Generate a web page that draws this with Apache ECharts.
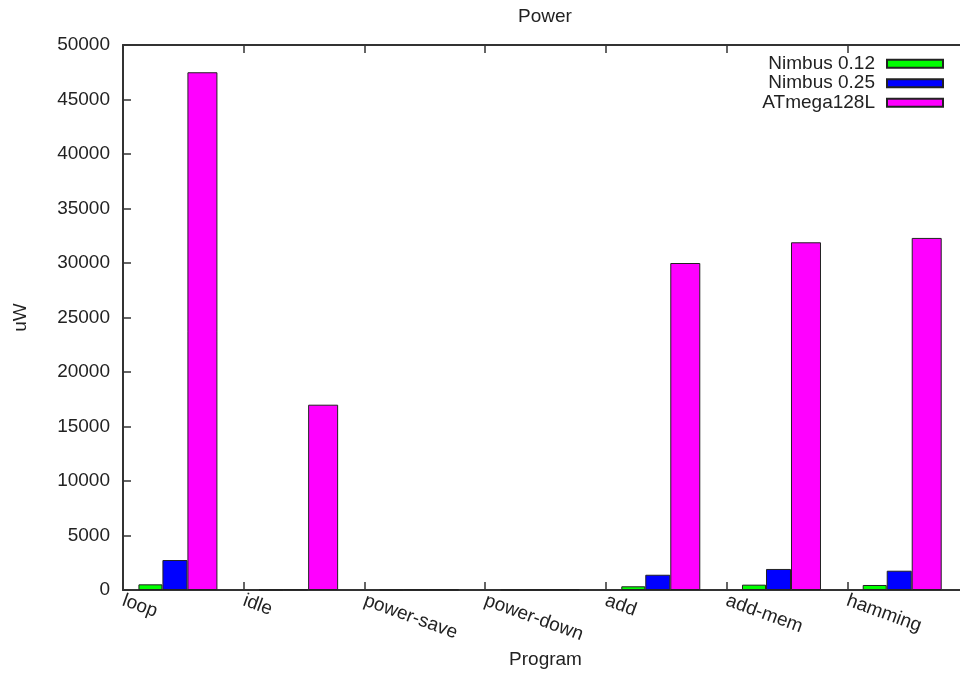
<!DOCTYPE html>
<html>
<head>
<meta charset="utf-8">
<title>Power</title>
<script src="https://cdn.jsdelivr.net/npm/echarts@6/dist/echarts.min.js"></script>
<style>
  html, body { margin: 0; padding: 0; background: #fff; }
  #chart { width: 960px; height: 675px; }
</style>
</head>
<body>
<div id="chart"></div>
<script>
// programs on the x axis
var programs = ['loop', 'idle', 'power-save', 'power-down', 'add', 'add-mem', 'hamming'];
// power in uW for each processor
var nimbus012 = [520, 20, 15, 10, 340, 490, 460];
var nimbus025 = [2750, 60, 30, 25, 1400, 1930, 1770];
var atmega = [47500, 17000, 40, 35, 30000, 31900, 32300];
var yTicks = { min: 0, max: 50000, step: 5000 };

var font = 'Liberation Sans, Arial, Helvetica, sans-serif';
var fs = 19;
var ink = '#222';
var frame = '#333';

// gnuplot puts each cluster a bit right of its tick
var clusterOffset = 0.455;
function toPoints(arr) {
  return arr.map(function (v, i) { return [i + clusterOffset, v]; });
}

var chart = echarts.init(document.getElementById('chart'), null, { renderer: 'canvas' });

function barSeries(name, values, color, width) {
  return {
    name: name,
    type: 'bar',
    xAxisIndex: 0,
    yAxisIndex: 0,
    barWidth: width,
    barGap: '0%',
    itemStyle: { color: color, borderColor: ink, borderWidth: 1 },
    data: toPoints(values)
  };
}

// tics pointing into the plot, like gnuplot
var inTick = { show: true, inside: false, length: -8, lineStyle: { color: frame, width: 1.5 } };

// frame axis without labels (gnuplot mirror tics)
function mirrorAxis(pos, min, max, step) {
  return {
    type: 'value',
    position: pos,
    min: min,
    max: max,
    interval: step,
    splitLine: { show: false },
    axisLine: { show: true, onZero: false, lineStyle: { color: frame, width: 2 } },
    axisTick: inTick,
    axisLabel: { show: false }
  };
}

var option = {
  animation: false,
  backgroundColor: '#fff',
  title: {
    text: 'Power',
    left: 518,
    top: 7,
    padding: 0,
    textStyle: { fontFamily: font, fontSize: fs, fontWeight: 'normal', color: ink }
  },
  legend: {
    orient: 'vertical',
    right: 16,
    top: 54,
    padding: 0,
    align: 'right',
    icon: 'rect',
    itemWidth: 56,
    itemHeight: 8,
    itemGap: 0,
    selectedMode: false,
    textStyle: { fontFamily: font, fontSize: fs, color: ink, lineHeight: 19.5, padding: [0, 7, 0, 0] },
    data: ['Nimbus 0.12', 'Nimbus 0.25', 'ATmega128L']
  },
  grid: { left: 123, top: 45, width: 845, height: 545, containLabel: false, outerBoundsMode: 'none' },
  xAxis: [
    {
      type: 'value',
      position: 'bottom',
      min: 0,
      max: programs.length,
      interval: 1,
      name: 'Program',
      nameLocation: 'middle',
      nameGap: 59,
      nameTextStyle: { fontFamily: font, fontSize: fs, color: ink },
      splitLine: { show: false },
      axisLine: { show: true, onZero: false, lineStyle: { color: frame, width: 2 } },
      axisTick: inTick,
      axisLabel: {
        rotate: -20,
        margin: 10,
        fontFamily: font,
        fontSize: fs,
        color: ink,
        showMaxLabel: false,
        formatter: function (v) { return programs[v] || ''; }
      }
    },
    mirrorAxis('top', 0, programs.length, 1)
  ],
  yAxis: [
    {
      type: 'value',
      position: 'left',
      min: yTicks.min,
      max: yTicks.max,
      interval: yTicks.step,
      name: 'uW',
      nameLocation: 'middle',
      nameRotate: 90,
      nameGap: 93,
      nameTextStyle: { fontFamily: font, fontSize: fs, color: ink },
      splitLine: { show: false },
      axisLine: { show: true, onZero: false, lineStyle: { color: frame, width: 2 } },
      axisTick: inTick,
      axisLabel: {
        margin: 13, fontFamily: font, fontSize: fs, color: ink,
        formatter: function (v) { return String(v); }
      }
    },
    mirrorAxis('right', yTicks.min, yTicks.max, yTicks.step)
  ],
  series: [
    barSeries('Nimbus 0.12', nimbus012, '#00ff00', 24),
    barSeries('Nimbus 0.25', nimbus025, '#0000ff', 25),
    barSeries('ATmega128L', atmega, '#ff00ff', 30)
  ]
};

chart.setOption(option);
</script>
</body>
</html>
